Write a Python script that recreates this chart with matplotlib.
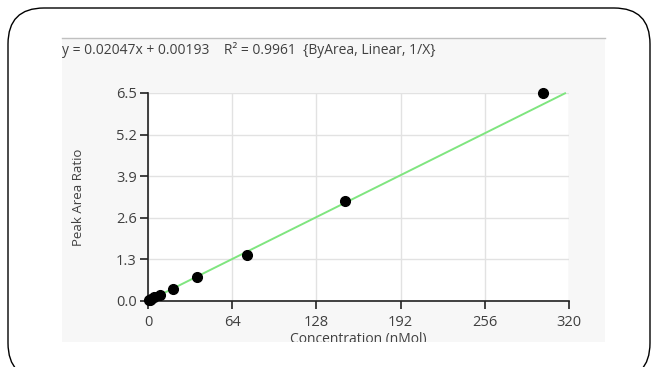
import matplotlib
matplotlib.use("Agg")
import matplotlib.pyplot as plt
from matplotlib.patches import Rectangle, FancyBboxPatch

# calibration points
conc = [0.6, 1.2, 2.3, 4.7, 9.4, 18.75, 37.5, 75, 150, 300]
ratio = [0.02, 0.04, 0.07, 0.12, 0.19, 0.38, 0.74, 1.44, 3.13, 6.50]

slope = 0.02047
intercept = 0.00193
fit_x = [0, 317]
fit_y = [slope * x + intercept for x in fit_x]

x_ticks = [0, 64, 128, 192, 256, 320]
y_ticks = [0.0, 1.3, 2.6, 3.9, 5.2, 6.5]
title = "y = 0.02047x + 0.00193    R² = 0.9961  {ByArea, Linear, 1/X}"

plt.rcParams['font.family'] = ['Open Sans', 'DejaVu Sans']
TXT = "#404040"

fig = plt.figure(figsize=(6.54, 3.67), dpi=100)
fig.patch.set_facecolor("white")

# outer rounded frame (inch coords so corners stay round)
frame = FancyBboxPatch((0.08, -0.12), 6.42, 3.71, boxstyle="round,pad=0,rounding_size=0.36",
                       transform=fig.dpi_scale_trans, facecolor="none", edgecolor="black",
                       linewidth=1.0, zorder=-2)
fig.patches.append(frame)

# light gray chart panel
W, H = 654, 367
panel = Rectangle((62 / W, 1 - 342 / H), (605 - 62) / W, (342 - 38) / H, transform=fig.transFigure,
                  facecolor="#f7f7f7", edgecolor="none", zorder=-1)
fig.patches.append(panel)
fig.add_artist(plt.Line2D([62 / W, 605 / W], [1 - 38 / H, 1 - 38 / H], color="#c0c0c0",
                          linewidth=1.0, zorder=0))

fig.text(62 / W, 1 - 50 / H, title, fontsize=10, color=TXT, va="center", ha="left")

ax = fig.add_axes([148 / W, 1 - 301 / H, (569 - 148) / W, (301 - 93) / H])
ax.set_facecolor("white")
ax.plot(fit_x, fit_y, color="#7fe57f", linewidth=1.4, zorder=2, clip_on=False)
ax.plot(conc, ratio, "o", color="black", markersize=7, clip_on=False, zorder=3)

ax.set_xlim(0, 320)
ax.set_ylim(0, 6.5)
ax.set_xticks(x_ticks)
ax.set_yticks(y_ticks)
ax.set_yticklabels(["%.1f" % v for v in y_ticks])
ax.grid(True, color="#e2e2e2", linewidth=1.0)
ax.set_axisbelow(True)
for side in ["top", "right"]:
    ax.spines[side].set_visible(False)
for side in ["left", "bottom"]:
    ax.spines[side].set_color("#222222")
    ax.spines[side].set_linewidth(1.2)
ax.tick_params(direction="out", length=6, width=1.2, color="#222222", labelsize=10.5, labelcolor=TXT, pad=2)
ax.tick_params(axis="x", pad=4)

ax.set_ylabel("Peak Area Ratio", fontsize=9.5, color=TXT, labelpad=22)
xl = fig.text(358 / W, 1 - 339 / H, "Concentration (nMol)", fontsize=10, color=TXT, ha="center", va="center")
xl.set_clip_path(panel)

fig.savefig("out.png", dpi=100)
